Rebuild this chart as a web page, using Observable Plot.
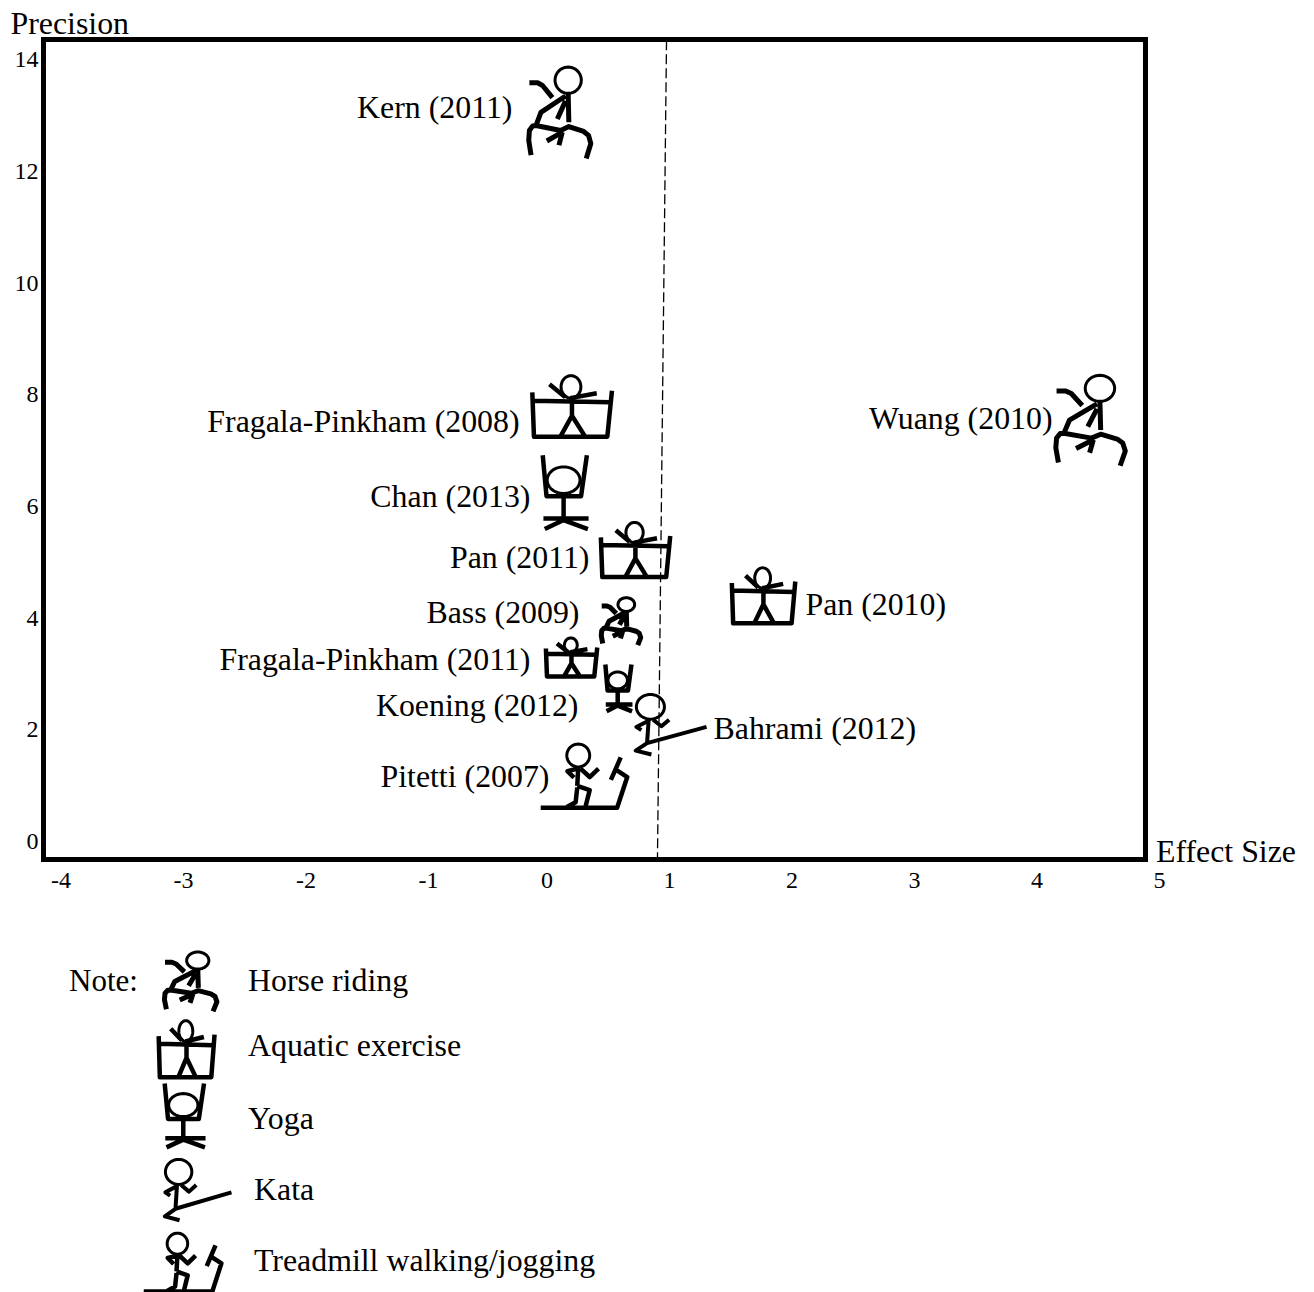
<!DOCTYPE html>
<html>
<head>
<meta charset="utf-8">
<style>
  html, body { margin: 0; padding: 0; background: #fff; }
  svg { display: block; }
</style>
<script src="https://cdn.jsdelivr.net/npm/d3@7"></script>
<script src="https://cdn.jsdelivr.net/npm/@observablehq/plot@0.6"></script>
</head>
<body>
<div id="chart"></div>
<script>
// ---- Data ----
const studies = ["Kern (2011)", "Wuang (2010)", "Fragala-Pinkham (2008)", "Chan (2013)", "Pan (2011)", "Pan (2010)", "Bass (2009)", "Fragala-Pinkham (2011)", "Koening (2012)", "Bahrami (2012)", "Pitetti (2007)"];
const activityOf = ["Horse riding", "Horse riding", "Aquatic exercise", "Yoga", "Aquatic exercise", "Aquatic exercise", "Horse riding", "Aquatic exercise", "Yoga", "Kata", "Treadmill walking/jogging"];
const effectSize = [0.098, 4.43, 0.204, 0.147, 0.722, 1.767, 0.6, 0.2, 0.584, 1.008, 0.306];
const precision = [13.07, 7.56, 7.8, 6.26, 5.23, 4.41, 3.96, 3.31, 2.76, 2.11, 1.19];
const weight = [1, 0.99, 0.68, 0.82, 0.61, 0.62, 0.52, 0.43, 0.52, 0.67, 0.71];
const labelEffect = [-0.282, 4.127, -0.224, -0.135, 0.347, 2.11, 0.265, -0.135, 0.257, 1.36, 0.02];
const labelPrecision = [13.16, 7.59, 7.53, 6.19, 5.10, 4.26, 4.12, 3.27, 2.45, 2.04, 1.18];
const labelSide = ["end", "end", "end", "end", "end", "start", "end", "end", "end", "start", "end"];
const xTicksNegative = [-4, -3, -2, -1];
const xTicksPositive = [0, 1, 2, 3, 4, 5];
const yTicks = [0, 2, 4, 6, 8, 10, 12, 14];
const meanEffectLine = [{x1: 0.976, y1: 14.36, x2: 0.902, y2: -0.29}];
const activities = ["Horse riding", "Aquatic exercise", "Yoga", "Kata", "Treadmill walking/jogging"];
const legendWeight = [0.65, 0.63, 0.71, 0.68, 0.65];

// ---- Styles: horizontal stretch of each drawn figure, legend layout ----
const studyStretch = [1, 1.13, 1.03, 1.03, 1, 0.9, 1.22, 1.05, 0.96, 1.03, 1];
const legendStyle = [
  {stretch: 1.3,  glyphDx: 189.5, glyphDy: 0,    textDx: 247.5, textDy: -1},
  {stretch: 0.78, glyphDx: 186,   glyphDy: -2,   textDx: 247.5, textDy: -6},
  {stretch: 1.06, glyphDx: 184,   glyphDy: -5.5, textDx: 247.5, textDy: -3},
  {stretch: 0.955,glyphDx: 197,   glyphDy: -1.5, textDx: 253.5, textDy: -2},
  {stretch: 0.98, glyphDx: 182.5, glyphDy: 1,    textDx: 253.5, textDy: -1}
];
const FONT = "'Liberation Serif', 'Times New Roman', serif";
const LABEL_SIZE = 31.85, TICK_SIZE = 24, HEAD_STROKE = 3;

// ---- Stick-figure symbols, in their own drawing units ----
const figures = {
  "Horse riding": {
    cx: 175, cy: 185, h: 280, stroke: 5,
    circle: [203, 87, 40, 40],
    lines: [
      [[203,127],[205,215]],
      [[195,135],[120,185],[105,225]],
      [[85,95],[110,95],[125,103],[155,140]],
      [[195,150],[170,205]],
      [[90,315],[83,270],[85,240],[95,226],[105,225],[180,240],[205,228],[250,243],[265,255],[272,280],[258,325]],
      [[185,245],[138,272]],
      [[185,245],[175,285]]
    ]
  },
  "Aquatic exercise": {
    cx: 155, cy: 122, h: 195, stroke: 4.5,
    circle: [152, 60, 30, 35],
    lines: [
      [[87,52],[135,92]],
      [[150,95],[230,80]],
      [[38,103],[270,108]],
      [[35,77],[40,215],[262,215],[276,72]],
      [[155,95],[155,150]],
      [[155,150],[120,215]],
      [[155,150],[195,215]]
    ]
  },
  "Yoga": {
    cx: 131, cy: 383, h: 227, stroke: 4.5,
    circle: [127, 345, 48, 40],
    lines: [
      [[66,270],[77,393],[178,393],[195,270]],
      [[127,393],[127,465]],
      [[68,460],[200,460]],
      [[72,492],[127,465],[198,492]]
    ]
  },
  "Kata": {
    cx: 422, cy: 133, h: 190, stroke: 4,
    circle: [362, 78, 42, 38],
    lines: [
      [[357,115],[352,190]],
      [[355,122],[320,140],[335,150]],
      [[370,118],[395,138],[418,118]],
      [[530,140],[352,190],[318,213],[365,225]]
    ]
  },
  "Treadmill walking/jogging": {
    cx: 162, cy: 285, h: 200, stroke: 4.5,
    circle: [143, 222, 35, 35],
    lines: [
      [[143,257],[140,315]],
      [[143,262],[110,270],[130,290]],
      [[150,262],[178,288],[205,262]],
      [[140,315],[178,328],[165,380]],
      [[140,320],[135,365],[108,380]],
      [[28,382],[262,382],[293,288],[258,265]],
      [[273,228],[243,297]]
    ]
  }
};

// part: "head" draws the thin ring, "limbs" draws the heavy strokes
function glyph(kind, stretch, part) {
  const g = figures[kind];
  return {
    draw(ctx, size) {
      const k = Math.sqrt(size / Math.PI) / (g.h / 2);
      const px = x => (x - g.cx) * k * stretch;
      const py = y => (y - g.cy) * k;
      if (part === "head") {
        const [cx, cy, rx, ry] = g.circle;
        for (let i = 0; i < 48; i++) {
          const a = (i / 48) * 2 * Math.PI;
          const X = px(cx + rx * Math.cos(a)), Y = py(cy + ry * Math.sin(a));
          if (i === 0) ctx.moveTo(X, Y); else ctx.lineTo(X, Y);
        }
        ctx.closePath();
      } else {
        for (const line of g.lines) {
          line.forEach(([x, y], i) => i === 0 ? ctx.moveTo(px(x), py(y)) : ctx.lineTo(px(x), py(y)));
        }
      }
    }
  };
}

const rows = studies.map((study, i) => ({
  study, activity: activityOf[i], effect: effectSize[i], precision: precision[i], weight: weight[i],
  labelEffect: labelEffect[i], labelPrecision: labelPrecision[i], side: labelSide[i], stretch: studyStretch[i]
}));
const legendRows = activities.map((activity, i) => ({activity, weight: legendWeight[i], ...legendStyle[i]}));
const rScale = {type: "linear", domain: [0, 1], range: [0, 46]};

// One stick figure = a heavy-stroke dot plus a thin-ring dot at the same place
const figureMarks = (d, options) => [
  Plot.dot([d], {...options, r: "weight", symbol: glyph(d.activity, d.stretch, "limbs"), fill: "none", stroke: "black", strokeWidth: figures[d.activity].stroke, strokeLinejoin: "round"}),
  Plot.dot([d], {...options, r: "weight", symbol: glyph(d.activity, d.stretch, "head"), fill: "none", stroke: "black", strokeWidth: HEAD_STROKE})
];

const main = Plot.plot({
  width: 1314,
  height: 930,
  marginLeft: 43,
  marginRight: 169,
  marginTop: 39,
  marginBottom: 71,
  style: {fontFamily: FONT, background: "white", color: "black", overflow: "visible"},
  x: {domain: [-4.11, 4.886]},
  y: {domain: [-0.304, 14.375]},
  r: rScale,
  marks: [
    Plot.axisY(yTicks, {anchor: "left", tickSize: 0, tickPadding: 5, fontSize: TICK_SIZE, label: null, tickFormat: "d", dy: -1}),
    Plot.axisX(xTicksPositive, {anchor: "bottom", tickSize: 0, tickPadding: 11, fontSize: TICK_SIZE, label: null, tickFormat: "d"}),
    Plot.axisX(xTicksNegative, {anchor: "bottom", tickSize: 0, tickPadding: 11, fontSize: TICK_SIZE, label: null, dx: 4, tickFormat: d => "-" + Math.abs(d)}),
    Plot.frame({stroke: "black", strokeWidth: 5}),
    Plot.link(meanEffectLine, {x1: "x1", y1: "y1", x2: "x2", y2: "y2", stroke: "black", strokeWidth: 1.3, strokeDasharray: "10 4"}),
    ...rows.flatMap(d => figureMarks(d, {x: "effect", y: "precision"})),
    Plot.text(rows, {x: "labelEffect", y: "labelPrecision", text: "study", textAnchor: "end", filter: d => d.side === "end", fontSize: LABEL_SIZE, fill: "black"}),
    Plot.text(rows, {x: "labelEffect", y: "labelPrecision", text: "study", textAnchor: "start", filter: d => d.side === "start", fontSize: LABEL_SIZE, fill: "black"}),
    Plot.text(["Precision"], {frameAnchor: "top-left", dx: -33, dy: -16, textAnchor: "start", lineAnchor: "middle", fontSize: LABEL_SIZE, fill: "black"}),
    Plot.text(["Effect Size"], {frameAnchor: "bottom-right", dx: 10.5, dy: -8, textAnchor: "start", lineAnchor: "middle", fontSize: LABEL_SIZE, fill: "black"})
  ]
});

const legend = Plot.plot({
  width: 1314,
  height: 362,
  marginLeft: 0,
  marginRight: 0,
  marginTop: 0,
  marginBottom: 0,
  style: {fontFamily: FONT, background: "white", color: "black", overflow: "visible"},
  y: {type: "point", domain: activities, range: [51, 331], padding: 0, axis: null},
  r: rScale,
  marks: [
    Plot.text(["Note:"], {frameAnchor: "top-left", dx: 68.5, dy: 51, textAnchor: "start", lineAnchor: "middle", fontSize: 31, fill: "black"}),
    ...legendRows.flatMap(d => figureMarks(d, {y: "activity", frameAnchor: "left", dx: d.glyphDx, dy: d.glyphDy})),
    ...legendRows.map(d => Plot.text([d], {
      y: "activity", text: "activity", frameAnchor: "left", dx: d.textDx, dy: d.textDy,
      textAnchor: "start", lineAnchor: "middle", fontSize: LABEL_SIZE, fill: "black"
    }))
  ]
});

const root = document.getElementById("chart");
root.appendChild(main);
root.appendChild(legend);
</script>
</body>
</html>
